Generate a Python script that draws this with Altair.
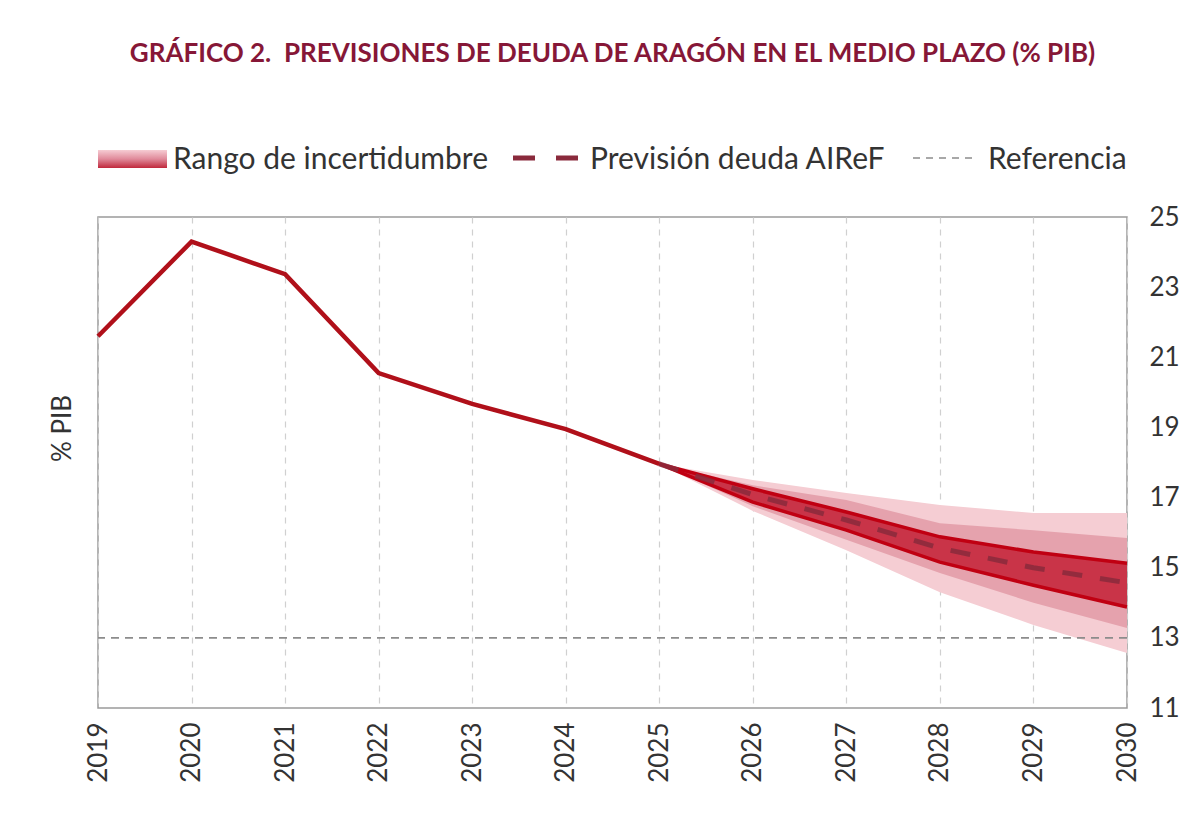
import altair as alt
import pandas as pd

# Observed debt (% of GDP), 2019-2025
hist_years = [2019, 2020, 2021, 2022, 2023, 2024, 2025]
hist_debt = [21.6, 24.3, 23.37, 20.55, 19.67, 18.95, 17.96]

# AIReF projection with uncertainty bands, 2025-2030
fc_years = [2025, 2026, 2027, 2028, 2029, 2030]
fc_center = [17.96, 17.08, 16.36, 15.56, 15.0, 14.57]
fc_dark_hi = [17.96, 17.25, 16.59, 15.88, 15.45, 15.13]
fc_dark_lo = [17.96, 16.87, 16.07, 15.16, 14.5, 13.88]
fc_mid_hi = [17.96, 17.35, 16.93, 16.27, 16.07, 15.85]
fc_mid_lo = [17.96, 16.75, 15.8, 14.85, 14.0, 13.28]
fc_out_hi = [17.96, 17.5, 17.13, 16.79, 16.56, 16.56]
fc_out_lo = [17.96, 16.62, 15.5, 14.3, 13.37, 12.57]

reference_level = 13
year_ticks = list(range(2019, 2031))
y_ticks = [11, 13, 15, 17, 19, 21, 23, 25]

# no-break space keeps the double gap after the figure number
title_text = "GRÁFICO 2.\u00a0 PREVISIONES DE DEUDA DE ARAGÓN EN EL MEDIO PLAZO (% PIB)"

hist_df = pd.DataFrame({"year": hist_years, "debt": hist_debt})
fc_df = pd.DataFrame({
    "year": fc_years, "center": fc_center,
    "dark_hi": fc_dark_hi, "dark_lo": fc_dark_lo,
    "mid_hi": fc_mid_hi, "mid_lo": fc_mid_lo,
    "out_hi": fc_out_hi, "out_lo": fc_out_lo,
})
one = pd.DataFrame({"k": [0]})

FONT = "Lato"
TXT = "#333333"

x_axis = alt.Axis(values=year_ticks, format="d", labelAngle=270, labelAlign="right",
                  labelBaseline="middle", labelPadding=14, labelFontSize=26,
                  labelColor=TXT, ticks=False, domain=False, grid=True,
                  gridDash=[6, 6], gridColor="#d0d0d0", gridWidth=1.2, title=None)
y_axis = alt.Axis(orient="right", values=y_ticks, labelFontSize=26, labelColor=TXT,
                  labelAlign="left", labelPadding=22, ticks=False, domain=False,
                  grid=False, title="% PIB", titleFontSize=26, titleFontWeight="normal",
                  titleColor=TXT, titleAngle=270, titleX=-1065, titleY=211,
                  titleAlign="center", titleBaseline="middle")
x_scale = alt.Scale(domain=[2019, 2030], nice=False, zero=False)
y_scale = alt.Scale(domain=[11, 25], nice=False, zero=False)


def X():
    return alt.X("year:Q", scale=x_scale, axis=x_axis)


def Y(field):
    return alt.Y(f"{field}:Q", scale=y_scale, axis=y_axis)


fc = alt.Chart(fc_df)
outer = fc.mark_area(color="#F5CDD3").encode(x=X(), y=Y("out_lo"), y2="out_hi")
mid = fc.mark_area(color="#E5A2AD").encode(x=X(), y=Y("mid_lo"), y2="mid_hi")
dark = fc.mark_area(color="#C93448").encode(x=X(), y=Y("dark_lo"), y2="dark_hi")
edge_hi = fc.mark_line(color="#C00012", strokeWidth=3.5).encode(x=X(), y=Y("dark_hi"))
edge_lo = fc.mark_line(color="#C00012", strokeWidth=3.5).encode(x=X(), y=Y("dark_lo"))
center = fc.mark_line(color="#8A2A3C", strokeWidth=5, strokeDash=[20, 18],
                      opacity=0.85).encode(x=X(), y=Y("center"))

ref = alt.Chart(one).mark_rule(color="#8c8c8c", strokeWidth=1.6,
                               strokeDash=[8, 6]).encode(
    y=alt.Y(datum=reference_level, scale=y_scale, axis=y_axis))

hist = alt.Chart(hist_df).mark_line(color="#B0101A", strokeWidth=4.5).encode(
    x=X(), y=Y("debt"))

# Legend row and heading above the plot
leg = alt.Chart(one)
swatch = leg.mark_rect(fill=alt.Gradient(
    gradient="linear", x1=0, y1=0, x2=0, y2=1,
    stops=[alt.GradientStop(color="#F6CCD3", offset=0),
           alt.GradientStop(color="#E08A9A", offset=0.5),
           alt.GradientStop(color="#C0283C", offset=1)])).encode(
    x=alt.value(0), x2=alt.value(69), y=alt.value(-67), y2=alt.value(-49))
dash_key = leg.mark_rule(color="#8A2A3C", strokeWidth=5, strokeDash=[22, 21]).encode(
    x=alt.value(415), x2=alt.value(480), y=alt.value(-59))
ref_key = leg.mark_rule(color="#8c8c8c", strokeWidth=1.6, strokeDash=[7, 6]).encode(
    x=alt.value(815), x2=alt.value(877), y=alt.value(-59))


def leg_text(label, xpos):
    return leg.mark_text(text=label, font=FONT, fontSize=30, color=TXT, align="left",
                         baseline="alphabetic").encode(x=alt.value(xpos), y=alt.value(-48))


heading = leg.mark_text(text=title_text, font=FONT, fontSize=26, fontWeight="bold",
                        color="#861737", align="center", baseline="alphabetic").encode(
    x=alt.value(514.5), y=alt.value(-155))

chart = alt.layer(
    outer, mid, dark, edge_hi, edge_lo, center, ref, hist,
    swatch, dash_key, ref_key,
    leg_text("Rango de incertidumbre", 75),
    leg_text("Previsión deuda AIReF", 492),
    leg_text("Referencia", 890),
    heading,
).properties(
    width=1029, height=491,
    padding={"left": 98, "top": 217, "right": 73, "bottom": 121},
    autosize=alt.AutoSizeParams(type="none"),
).configure(font=FONT).configure_view(stroke="#9a9a9a", strokeWidth=1.5)

chart.save("out.html", embed_options={"renderer": "svg", "actions": False})
